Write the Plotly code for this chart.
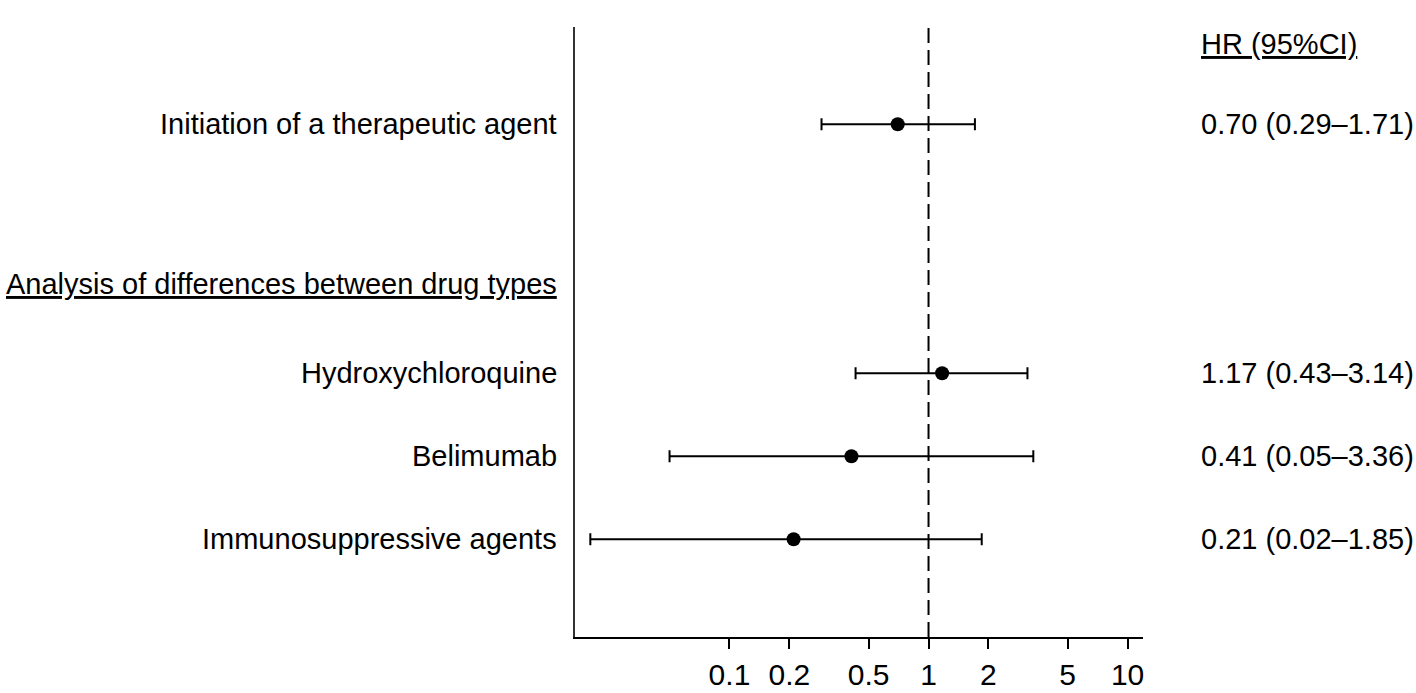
import math
import plotly.graph_objects as go

# ---- data ----
labels = ["Initiation of a therapeutic agent", "Hydroxychloroquine", "Belimumab", "Immunosuppressive agents"]
hr = [0.70, 1.17, 0.41, 0.21]
ci_low = [0.29, 0.43, 0.05, 0.02]
ci_high = [1.71, 3.14, 3.36, 1.85]
hr_text = ["0.70 (0.29–1.71)", "1.17 (0.43–3.14)", "0.41 (0.05–3.36)", "0.21 (0.02–1.85)"]
section_header = "Analysis of differences between drug types"
column_header = "HR (95%CI)"
tick_vals = [0.1, 0.2, 0.5, 1, 2, 5, 10]
tick_text = ["0.1", "0.2", "0.5", "1", "2", "5", "10"]

# ---- layout positions (rows) ----
row_y = [6.0, 3.0, 2.0, 1.0]
header_y = 4.08
col_header_y = 6.97

FONT = "Liberation Sans, Arial, Helvetica, sans-serif"

fig = go.Figure()
fig.add_trace(go.Scatter(
    x=hr, y=row_y, mode="markers",
    marker=dict(color="black", size=14, symbol="circle"),
    error_x=dict(type="data", symmetric=False,
                 array=[h - v for h, v in zip(ci_high, hr)],
                 arrayminus=[v - l for v, l in zip(hr, ci_low)],
                 color="black", thickness=2, width=6),
    showlegend=False, hoverinfo="skip",
))

# reference line at HR = 1
fig.add_shape(type="line", xref="x", yref="paper", x0=1, x1=1, y0=0, y1=1,
              line=dict(color="black", width=2, dash="15px,7px"))

plot_w = 1143 - 575
label_x = (559 - 575) / plot_w
hr_x = (1199 - 575) / plot_w

for lab, y, t in zip(labels, row_y, hr_text):
    fig.add_annotation(text=lab, xref="paper", yref="y", x=label_x, y=y,
                       xanchor="right", yanchor="middle", showarrow=False,
                       font=dict(size=29, color="black", family=FONT))
    fig.add_annotation(text=t, xref="paper", yref="y", x=hr_x, y=y,
                       xanchor="left", yanchor="middle", showarrow=False,
                       font=dict(size=29, color="black", family=FONT))

fig.add_annotation(text="<u>" + section_header + "</u>", xref="paper", yref="y",
                   x=label_x, y=header_y, xanchor="right", yanchor="middle",
                   showarrow=False, font=dict(size=29, color="black", family=FONT))
fig.add_annotation(text="<u>" + column_header + "</u>", xref="paper", yref="y",
                   x=hr_x, y=col_header_y, xanchor="left", yanchor="middle",
                   showarrow=False, font=dict(size=29, color="black", family=FONT))

fig.update_layout(
    template="none",
    width=1416, height=693,
    margin=dict(l=575, r=1416 - 1143, t=27, b=693 - 637, pad=0),
    paper_bgcolor="white", plot_bgcolor="white",
    font=dict(family=FONT, color="black"),
    xaxis=dict(type="log", range=[math.log10(0.01675), math.log10(11.95)],
               tickvals=tick_vals, ticktext=tick_text, automargin=False,
               ticks="outside", ticklen=10, tickwidth=1.5, tickcolor="black",
               showline=True, linecolor="black", linewidth=1.5,
               showgrid=False, zeroline=False, ticklabelstandoff=0,
               tickfont=dict(size=30, color="black", family=FONT)),
    yaxis=dict(range=[-0.177, 7.172], showline=True, linecolor="#333", linewidth=1.5,
               automargin=False,
               showticklabels=False, ticks="", showgrid=False, zeroline=False),
)

fig.write_html(
    "out.html",
    config={"displayModeBar": False},
    post_script="document.body.style.margin='0';document.body.style.overflow='hidden';",
)
